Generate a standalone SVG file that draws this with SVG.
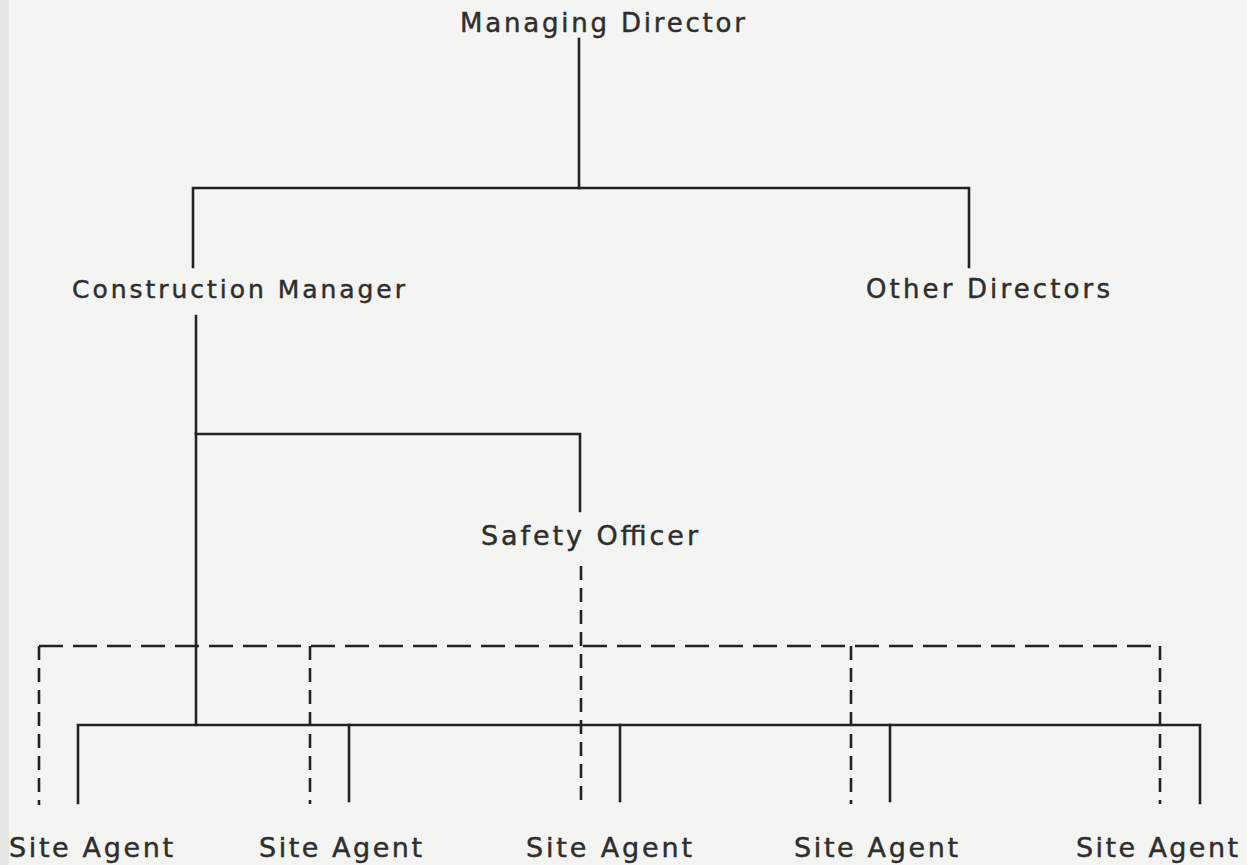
<svg xmlns="http://www.w3.org/2000/svg" width="1247" height="865" viewBox="0 0 1247 865">
<style>
.bg{fill:#f4f4f2}
.t{font-family:"DejaVu Sans","Liberation Sans",sans-serif;fill:#2e2e2e;stroke:#2e2e2e;stroke-width:0.45}
.s{fill:none;stroke:#222;stroke-width:2.6;stroke-linecap:square}
.dh{fill:none;stroke:#222;stroke-width:2.6;stroke-dasharray:24 10}
.dv{fill:none;stroke:#222;stroke-width:2.6;stroke-dasharray:14 8}
</style>
<rect class="bg" x="0" y="0" width="1247" height="865"/>
<rect x="0" y="0" width="9" height="865" fill="#e6e6e4"/>
<g id="connectors">
<polyline class="s" points="579,39 579,188"/>
<polyline class="s" points="193,267 193,188 969,188 969,267"/>
<polyline class="s" points="196,316 196,725"/>
<polyline class="s" points="196,434 580,434 580,511"/>
<polyline class="s" points="78,803 78,725 1200,725 1200,803"/>
<line class="s" x1="349" y1="725" x2="349" y2="801"/>
<line class="s" x1="620" y1="725" x2="620" y2="801"/>
<line class="s" x1="890" y1="725" x2="890" y2="801"/>
<polyline class="dh" points="39,646 1160,646"/>
<line class="dv" x1="581" y1="566" x2="581" y2="804"/>
<line class="dv" x1="39" y1="646" x2="39" y2="805"/>
<line class="dv" x1="310" y1="646" x2="310" y2="804"/>
<line class="dv" x1="851" y1="646" x2="851" y2="804"/>
<line class="dv" x1="1160" y1="646" x2="1160" y2="804"/>
</g>
<g id="managing-director"><text class="t" x="460" y="32" font-size="26" textLength="285" lengthAdjust="spacing">Managing Director</text></g>
<g id="construction-manager"><text class="t" x="72" y="298" font-size="25" textLength="333" lengthAdjust="spacing">Construction Manager</text></g>
<g id="other-directors"><text class="t" x="866" y="298" font-size="26" textLength="244" lengthAdjust="spacing">Other Directors</text></g>
<g id="safety-officer"><text class="t" x="481" y="545" font-size="27" textLength="217" lengthAdjust="spacing">Safety Officer</text></g>
<g id="site-agent-1"><text class="t" x="9" y="857" font-size="27" textLength="164" lengthAdjust="spacing">Site Agent</text></g>
<g id="site-agent-2"><text class="t" x="259" y="857" font-size="27" textLength="163" lengthAdjust="spacing">Site Agent</text></g>
<g id="site-agent-3"><text class="t" x="526" y="857" font-size="27" textLength="166" lengthAdjust="spacing">Site Agent</text></g>
<g id="site-agent-4"><text class="t" x="794" y="857" font-size="27" textLength="164" lengthAdjust="spacing">Site Agent</text></g>
<g id="site-agent-5"><text class="t" x="1076" y="857" font-size="27" textLength="162" lengthAdjust="spacing">Site Agent</text></g>
</svg>
